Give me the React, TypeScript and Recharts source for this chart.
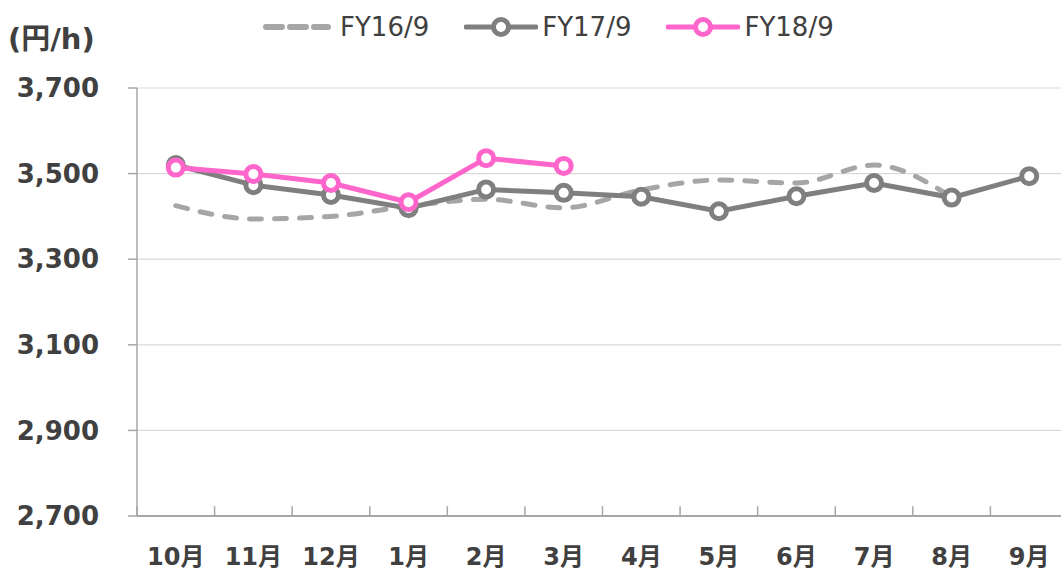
import { CartesianGrid, Legend, Line, LineChart, ReferenceLine, XAxis, YAxis } from "recharts";

const months = ["10月", "11月", "12月", "1月", "2月", "3月", "4月", "5月", "6月", "7月", "8月", "9月"];
const fy16 = [3425, 3394, 3400, 3424, 3440, 3420, 3462, 3485, 3478, 3520, 3445, null];
const fy17 = [3520, 3473, 3450, 3419, 3463, 3455, 3446, 3412, 3447, 3478, 3444, 3494];
const fy18 = [3514, 3499, 3478, 3433, 3536, 3518, null, null, null, null, null, null];
const yTicks = [2700, 2900, 3100, 3300, 3500, 3700];

const FONT = "'DejaVu Sans', Verdana, 'Noto Sans CJK JP', sans-serif";
const TEXT = "#404040";
const C16 = "#A6A6A6";
const C17 = "#7F7F7F";
const C18 = "#FF66CC";
const AXIS = "#A6A6A6";

const data = months.map((m, i) => ({
  pos: i + 0.5,
  month: m,
  fy16: fy16[i],
  fy17: fy17[i],
  fy18: fy18[i],
}));

const legendItems = [
  { name: "FY16/9", color: C16, dashed: true, svgW: 68, gapText: 9, after: 35 },
  { name: "FY17/9", color: C17, dashed: false, svgW: 74, gapText: 4, after: 35 },
  { name: "FY18/9", color: C18, dashed: false, svgW: 74, gapText: 4, after: 0 },
];

const LegendContent = () => (
  <div style={{ display: "flex", alignItems: "center", paddingLeft: 263, height: 0, overflow: "visible" }}>
    {legendItems.map((it) => (
      <div
        key={it.name}
        style={{ display: "flex", alignItems: "center", marginRight: it.after, marginTop: 54 }}
      >
        <svg width={it.svgW} height={24} style={{ display: "block" }}>
          {it.dashed ? (
            <line
              x1={3}
              y1={12}
              x2={it.svgW - 3}
              y2={12}
              stroke={it.color}
              strokeWidth={6}
              strokeLinecap="round"
              strokeDasharray="16 8"
            />
          ) : (
            <>
              <line x1={2} y1={12} x2={it.svgW - 2} y2={12} stroke={it.color} strokeWidth={5} strokeLinecap="round" />
              <circle cx={it.svgW / 2} cy={12} r={7.5} fill="#fff" stroke={it.color} strokeWidth={5} />
            </>
          )}
        </svg>
        <span
          style={{
            marginLeft: it.gapText,
            fontFamily: FONT,
            fontSize: 26,
            color: TEXT,
            lineHeight: "26px",
            whiteSpace: "nowrap",
          }}
        >
          {it.name}
        </span>
      </div>
    ))}
  </div>
);

export default function App() {
  return (
    <div
      style={{
        position: "fixed",
        left: 0,
        top: 0,
        width: 1061,
        height: 571,
        overflow: "hidden",
        background: "#fff",
      }}
    >
      <LineChart width={1075} height={571} data={data} margin={{ top: 88, right: 7, bottom: 0, left: 0 }}>
        <CartesianGrid vertical={false} stroke="#D9D9D9" strokeWidth={1.2} />
        <XAxis
          dataKey="pos"
          type="number"
          domain={[0, 12]}
          ticks={data.map((d) => d.pos)}
          tickFormatter={(v: number) => months[Math.floor(v)]}
          height={55}
          tickLine={false}
          tickSize={0}
          tickMargin={32}
          axisLine={{ stroke: AXIS, strokeWidth: 2 }}
          tick={{ fontFamily: FONT, fontSize: 24, fontWeight: 700, fill: TEXT }}
          interval={0}
        />
        <YAxis
          domain={[2700, 3700]}
          ticks={yTicks}
          width={137}
          tickSize={9}
          tickMargin={29}
          tickLine={{ stroke: AXIS, strokeWidth: 1.5 }}
          axisLine={{ stroke: AXIS, strokeWidth: 1.5 }}
          tickFormatter={(v: number) => v.toLocaleString("en-US")}
          tick={{ fontFamily: FONT, fontSize: 26, fontWeight: 700, fill: TEXT }}
          interval={0}
          label={{
            value: "(円/h)",
            content: () => (
              <text x={8} y={49} fontFamily={FONT} fontSize={29} fontWeight={700} fill={TEXT}>
                (円/h)
              </text>
            ),
          }}
        />
        {Array.from({ length: 13 }, (_, i) => (
          <ReferenceLine
            key={i}
            segment={[
              { x: i, y: 2700 },
              { x: i, y: 2723 },
            ]}
            stroke={AXIS}
            strokeWidth={1.5}
          />
        ))}
        <Legend
          verticalAlign="middle"
          align="center"
          content={<LegendContent />}
          wrapperStyle={{ top: 0, left: 0, width: 1061 }}
        />
        <Line
          dataKey="fy16"
          type="monotone"
          stroke={C16}
          strokeWidth={5}
          strokeDasharray="12 13"
          strokeLinecap="round"
          dot={false}
          activeDot={false}
          isAnimationActive={false}
          connectNulls={false}
        />
        <Line
          dataKey="fy17"
          type="linear"
          stroke={C17}
          strokeWidth={5}
          dot={{ r: 7.5, strokeWidth: 5, fill: "#fff", stroke: C17 }}
          activeDot={false}
          isAnimationActive={false}
        />
        <Line
          dataKey="fy18"
          type="linear"
          stroke={C18}
          strokeWidth={5}
          dot={{ r: 7.5, strokeWidth: 5, fill: "#fff", stroke: C18 }}
          activeDot={false}
          isAnimationActive={false}
        />
      </LineChart>
    </div>
  );
}
